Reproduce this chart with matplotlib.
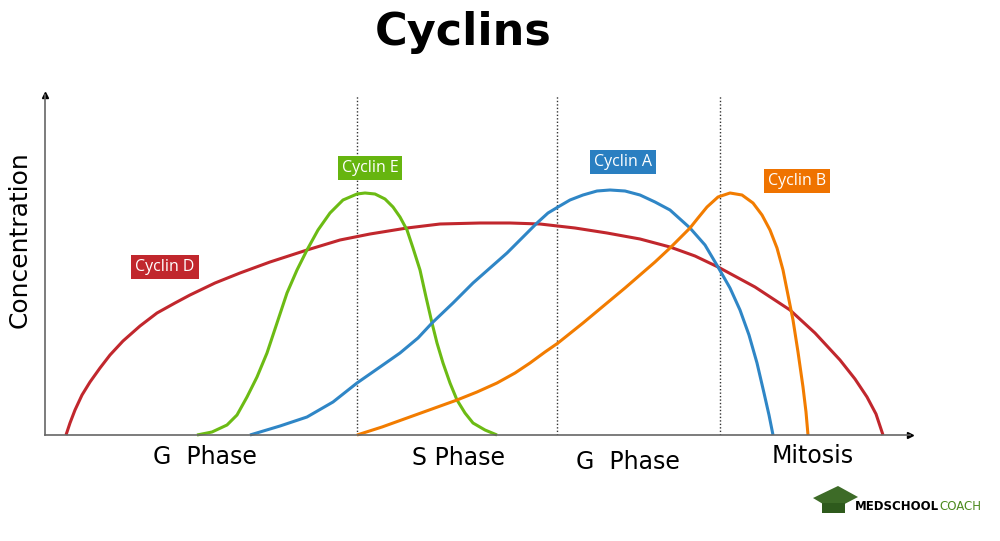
import numpy as np
import matplotlib.pyplot as plt
from matplotlib.patches import Polygon

# Curve values (time units, concentration units)
cyclin_d_x = [21, 25, 30, 37, 45, 55, 65, 78, 95, 112, 130, 145, 170, 195, 225, 262, 295, 325,
              362, 395, 435, 465, 495, 530, 562, 595, 625, 650, 673, 710, 745, 770, 795, 810,
              822, 831, 838]
cyclin_d_y = [0, 12, 25, 40, 53, 67, 80, 94, 109, 122, 132, 140, 152, 162, 173, 185, 195, 201,
              207, 211, 212, 212, 211, 207, 202, 196, 188, 179, 168, 148, 125, 102, 75, 56,
              38, 21, 0]

cyclin_e_x = [152, 167, 182, 192, 202, 212, 222, 232, 242, 252, 262, 273, 285, 298, 312, 320,
              330, 340, 348, 355, 362, 368, 375, 381, 387, 392, 398, 405, 412, 420, 428, 440, 452]
cyclin_e_y = [0, 3, 10, 20, 38, 58, 82, 112, 142, 165, 185, 205, 222, 235, 241, 242, 241, 236,
              228, 218, 205, 187, 165, 138, 112, 92, 72, 52, 35, 22, 12, 5, 0]

cyclin_a_x = [205, 235, 262, 288, 312, 335, 355, 373, 387, 408, 428, 445, 462, 477, 492, 503,
              513, 525, 538, 552, 565, 580, 595, 610, 625, 645, 660, 673, 685, 695, 704, 712,
              719, 724, 728]
cyclin_a_y = [0, 9, 18, 33, 52, 68, 82, 97, 112, 132, 152, 167, 182, 197, 212, 222, 228, 235,
              240, 244, 245, 244, 240, 233, 225, 207, 190, 168, 147, 125, 100, 72, 42, 20, 0]

cyclin_b_x = [312, 337, 362, 387, 412, 432, 452, 470, 485, 500, 513, 538, 562, 580, 595, 610,
              625, 635, 645, 653, 662, 673, 685, 697, 708, 717, 725, 732, 738, 743, 748, 753,
              758, 761, 763]
cyclin_b_y = [0, 8, 17, 26, 35, 43, 52, 62, 72, 83, 92, 112, 132, 147, 160, 173, 187, 197, 207,
              217, 228, 238, 242, 240, 232, 220, 205, 187, 165, 140, 115, 83, 48, 23, 0]

phase_lines = [312, 512, 675]

labels = ["Cyclin D", "Cyclin E", "Cyclin A", "Cyclin B"]
label_pos = [(120, 168), (325, 267), (578, 273), (752, 254)]
colors = ["#c1272d", "#6cbb14", "#2f86c6", "#f27c00"]
box_colors = ["#c1272d", "#66b50f", "#2a7fc1", "#ef7300"]

phase_names = ["G  Phase", "S Phase", "G  Phase", "Mitosis"]
phase_pos = [(205, 457), (458, 458), (628, 462), (813, 456)]

W, H = 1000, 541


def fx(px):
    return px / W


def fy(py):
    return 1 - py / H


fig = plt.figure(figsize=(10, 5.41), dpi=100)
ax = fig.add_axes([fx(45), fy(435), 865 / W, 340 / H])
ax.set_xlim(0, 865)
ax.set_ylim(0, 340)

for sp in ["top", "right"]:
    ax.spines[sp].set_visible(False)
for sp in ["left", "bottom"]:
    ax.spines[sp].set_color("#666666")
    ax.spines[sp].set_linewidth(1.2)
ax.set_xticks([])
ax.set_yticks([])
ax.plot(1, 0, ">", color="black", ms=5, transform=ax.transAxes, clip_on=False)
ax.plot(0, 1, "^", color="black", ms=5, transform=ax.transAxes, clip_on=False)

for x in phase_lines:
    ax.plot([x, x], [0, 340], color="#333333", lw=1, ls=(0, (1, 1.5)))

curves = [(cyclin_d_x, cyclin_d_y), (cyclin_e_x, cyclin_e_y),
          (cyclin_a_x, cyclin_a_y), (cyclin_b_x, cyclin_b_y)]
for (xs, ys), c in zip(curves, colors):
    ax.plot(xs, ys, color=c, lw=2.2, solid_capstyle="butt", solid_joinstyle="round",
            clip_on=False)

for lab, (x, y), bc in zip(labels, label_pos, box_colors):
    ax.text(x, y, lab, color="white", fontsize=11.5, ha="center", va="center",
            family="Open Sans",
            bbox=dict(boxstyle="square,pad=0.25", fc=bc, ec="none"))

# title and axis texts
fig.text(fx(463), fy(33), "Cyclins", fontsize=32, ha="center", va="center",
         family="DejaVu Sans", fontweight="bold")
fig.text(fx(20), fy(240), "Concentration", fontsize=18, rotation=90,
         ha="center", va="center", family="DejaVu Sans")
for name, (x, y) in zip(phase_names, phase_pos):
    fig.text(fx(x), fy(y), name, fontsize=17, ha="center", va="center",
             family="DejaVu Sans")

# logo
cap = Polygon([[fx(813), fy(498)], [fx(838), fy(486)], [fx(858), fy(497)], [fx(833), fy(510)]],
              closed=True, fc="#3d6b27", ec="none", transform=fig.transFigure)
fig.patches.append(cap)
cap2 = Polygon([[fx(822), fy(503)], [fx(845), fy(503)], [fx(845), fy(513)], [fx(822), fy(513)]],
               closed=True, fc="#2e5a1c", ec="none", transform=fig.transFigure)
fig.patches.append(cap2)
t = fig.text(fx(855), fy(507), "MEDSCHOOL", fontsize=8.5, fontweight="bold", ha="left",
             va="center", color="black")
ax.annotate("COACH", xy=(1, 0.5), xycoords=t, ha="left", va="center", fontsize=8.5,
            color="#4c8a1e", annotation_clip=False)

fig.savefig("out.png", dpi=100)
